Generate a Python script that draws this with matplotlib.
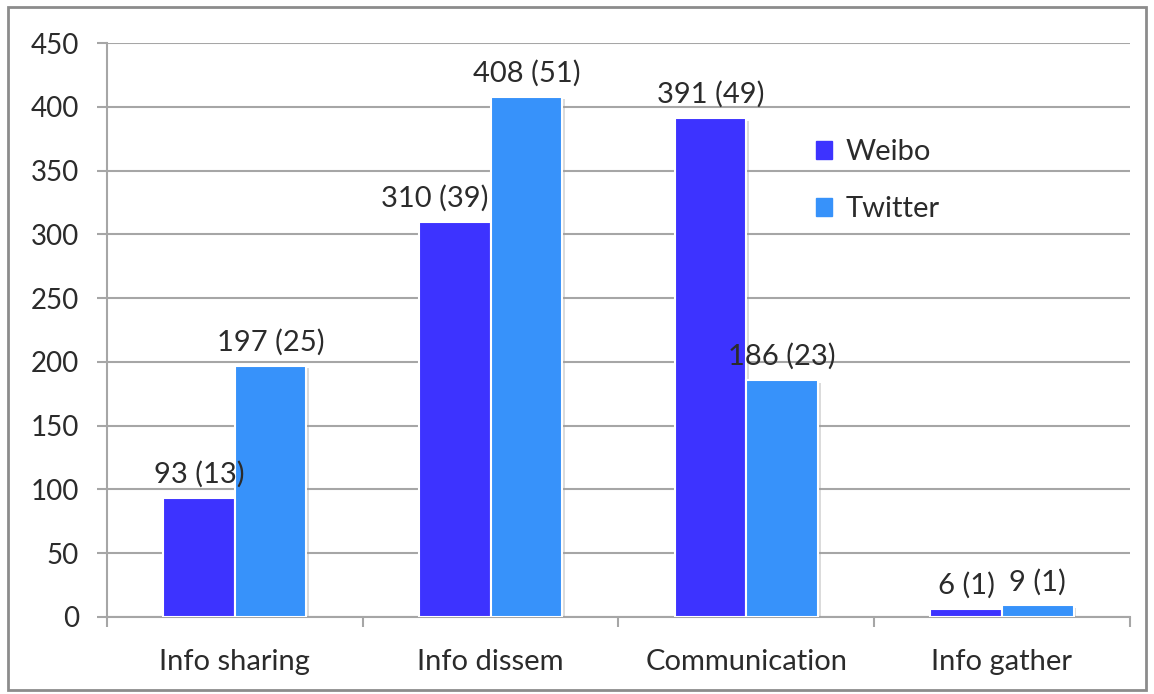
import numpy as np
import matplotlib
matplotlib.use('Agg')
import matplotlib.pyplot as plt
from matplotlib.patches import Rectangle
import matplotlib.patheffects as pe

categories = ['Info sharing', 'Info dissem', 'Communication', 'Info gather']
weibo = [93, 310, 391, 6]
twitter = [197, 408, 186, 9]
weibo_labels = ['93 (13)', '310 (39)', '391 (49)', '6 (1)']
twitter_labels = ['197 (25)', '408 (51)', '186 (23)', '9 (1)']
yticks = [0, 50, 100, 150, 200, 250, 300, 350, 400, 450]

weibo_color = '#3D33FF'
twitter_color = '#3792FA'
text_color = '#2B2B2B'
grid_color = '#A6A6A6'

plt.rcParams['font.family'] = ['Lato', 'DejaVu Sans']

fig = plt.figure(figsize=(11.54, 6.94), dpi=100)
ax = fig.add_axes([0.0927, 0.111, 0.979 - 0.0927, 0.938 - 0.111])

x = np.arange(len(categories))
w = 0.28
shadow = [pe.SimplePatchShadow(offset=(2, -2), shadow_rgbFace='#999999', alpha=0.35), pe.Normal()]
b1 = ax.bar(x - w / 2, weibo, w, color=weibo_color, edgecolor='white', linewidth=1.5, zorder=3)
b2 = ax.bar(x + w / 2, twitter, w, color=twitter_color, edgecolor='white', linewidth=1.5, zorder=3)
for b in list(b1) + list(b2):
    b.set_path_effects(shadow)

for i in range(len(categories)):
    # the label of the dissem Weibo bar sits a bit to the left in the original
    dx = -0.08 if i == 1 else 0
    ax.text(x[i] - w / 2 + dx, weibo[i] + 8, weibo_labels[i], ha='center', va='bottom',
            fontsize=21, color=text_color, zorder=4)
    ax.text(x[i] + w / 2, twitter[i] + 8, twitter_labels[i], ha='center', va='bottom',
            fontsize=21, color=text_color, zorder=4)

ax.set_xlim(-0.5, len(categories) - 0.5)
ax.set_ylim(0, 450)
ax.set_yticks(yticks)
ax.set_xticks(x)
ax.set_xticklabels(categories)
ax.set_xticks(np.arange(len(categories) + 1) - 0.5, minor=True)
ax.yaxis.grid(True, color=grid_color, linewidth=1.5, zorder=0)
ax.set_axisbelow(True)

for s in ['top', 'right']:
    ax.spines[s].set_visible(False)
for s in ['left', 'bottom']:
    ax.spines[s].set_color(grid_color)
    ax.spines[s].set_linewidth(1.5)

ax.tick_params(axis='y', length=7, width=1.5, color=grid_color, pad=13,
               labelsize=20, labelcolor=text_color)
ax.tick_params(axis='x', which='major', length=0, pad=23, labelsize=21, labelcolor=text_color)
ax.tick_params(axis='x', which='minor', length=7, width=1.5, color=grid_color)

handles = [Rectangle((0, 0), 1, 1, color=weibo_color), Rectangle((0, 0), 1, 1, color=twitter_color)]
leg = ax.legend(handles, ['Weibo', 'Twitter'], loc='center left', bbox_to_anchor=(0.668, 0.76),
                frameon=False, fontsize=21, handlelength=0.55, handleheight=0.55,
                handletextpad=0.45, labelspacing=1.05)
for t in leg.get_texts():
    t.set_color(text_color)

fig.patches.append(Rectangle((0.007, 0.006), 0.986, 0.984, transform=fig.transFigure,
                             fill=False, edgecolor='#8C8C8C', linewidth=2))

fig.savefig('out.png', dpi=100)
